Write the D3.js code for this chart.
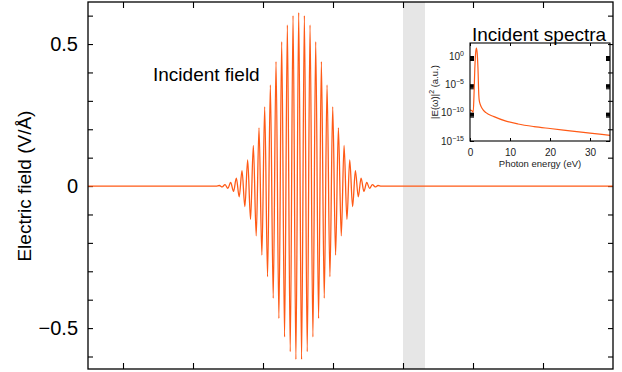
<!DOCTYPE html>
<html>
<head>
<meta charset="utf-8">
<script src="https://cdn.jsdelivr.net/npm/d3@7"></script>
<style>
  body { margin: 0; background: #fff; }
  svg { display: block; font-family: "Liberation Sans", Arial, Helvetica, sans-serif; }
</style>
</head>
<body>
<div id="chart"></div>
<script>
// incident field: extrema of the carrier (time axis in fs, field in V/Å)
const fieldTime = [-5, 13.3,
  13.76, 14.17, 14.57, 14.98, 15.38, 15.79, 16.19, 16.6, 17.0, 17.41, 17.81, 18.22, 18.62, 19.03,
  19.43, 19.84, 20.24, 20.65, 21.05, 21.46, 21.86, 22.27, 22.67, 23.08, 23.48, 23.89, 24.29, 24.7,
  25.1,
  25.51, 25.91, 26.32, 26.72, 27.13, 27.53, 27.94, 28.34, 28.75, 29.15, 29.56, 29.96, 30.37, 30.77,
  31.18, 31.58, 31.99, 32.39, 32.8, 33.2, 33.61, 34.01, 34.42, 34.82, 35.23, 35.63, 36.04, 36.44,
  36.9, 70];
const fieldValue = [0, 0,
  0.002, -0.003, 0.005, -0.008, 0.013, -0.019, 0.028, -0.038, 0.054, -0.072, 0.092, -0.117, 0.143, -0.175,
  0.205, -0.243, 0.279, -0.319, 0.356, -0.395, 0.438, -0.466, 0.508, -0.531, 0.567, -0.583, 0.600, -0.610,
  0.611,
  -0.610, 0.600, -0.583, 0.567, -0.531, 0.508, -0.466, 0.438, -0.395, 0.356, -0.319, 0.279, -0.243, 0.205,
  -0.175, 0.143, -0.117, 0.092, -0.072, 0.054, -0.038, 0.028, -0.019, 0.013, -0.008, 0.005, -0.003, 0.002,
  0, 0];
const xTicks = [0, 10, 20, 30, 40, 50, 60];
const yTicks = [-0.6, -0.5, -0.4, -0.3, -0.2, -0.1, 0, 0.1, 0.2, 0.3, 0.4, 0.5, 0.6];
const yTickLabels = [-0.5, 0, 0.5];
const grayBand = [40, 43.14];

// incident spectrum (inset)
const specEnergy = [0, 0.4, 0.8, 1.0, 1.2, 1.4, 1.6, 1.8, 2.0, 2.2, 2.3, 2.6, 3.0, 4.0, 6.0, 9.0, 12, 16, 20, 25, 30, 35];
const specPower = [3e-10, 2.5e-10, 1.2e-10, 1.3e-7, 5e-3, 3.0, 25, 3.0, 5e-3, 1.3e-7, 1.6e-8, 2.5e-9, 6e-10,
  1e-10, 2e-11, 3.2e-12, 1e-12, 3.5e-13, 1.6e-13, 6.3e-14, 2.5e-14, 1e-14];
const specXTicks = [0, 10, 20, 30];
const specYTicks = [1, 1e-5, 1e-10, 1e-15];
const specYExp = ['0', '\u22125', '\u221210', '\u221215'];

const width = 622;
const height = 372;
const lineColor = '#ff5a16';

const svg = d3.select('#chart')
  .append('svg')
  .attr('width', width)
  .attr('height', height);

// main plot scales
const x = d3.scaleLinear().domain([-5, 70]).range([88, 613]);
const y = d3.scaleLinear().domain([-0.644, 0.648]).range([369, 2]);

// gray band
svg.append('rect')
  .attr('x', x(grayBand[0]))
  .attr('y', y(0.648))
  .attr('width', x(grayBand[1]) - x(grayBand[0]))
  .attr('height', y(-0.644) - y(0.648))
  .attr('fill', '#e6e6e6');

// axes with inward ticks
const fmt = d => d === 0 ? '0' : d3.format('.1f')(d);
const yLeft = svg.append('g')
  .attr('transform', `translate(${x.range()[0]},0)`)
  .call(d3.axisLeft(y).tickValues(yTicks).tickSize(-5).tickPadding(10)
    .tickFormat(d => yTickLabels.includes(d) ? fmt(d) : ''));
svg.append('g')
  .attr('transform', `translate(${x.range()[1]},0)`)
  .call(d3.axisRight(y).tickValues(yTicks).tickSize(-5).tickFormat(''));
svg.append('g')
  .attr('transform', `translate(0,${y.range()[0]})`)
  .call(d3.axisBottom(x).tickValues(xTicks).tickSize(-6).tickFormat(''));
svg.append('g')
  .attr('transform', `translate(0,${y.range()[1]})`)
  .call(d3.axisTop(x).tickValues(xTicks).tickSize(-6).tickFormat(''));

svg.selectAll('.domain').remove();
svg.selectAll('.tick line').attr('stroke', '#000').attr('stroke-width', 1.1);
yLeft.selectAll('text')
  .attr('font-size', 20)
  .attr('font-family', '"Liberation Sans", Arial, sans-serif')
  .attr('fill', '#000');

// field line
const line = d3.line()
  .x((d, i) => x(fieldTime[i]))
  .y(d => y(d))
  .curve(d3.curveMonotoneX);

svg.append('path')
  .datum(fieldValue)
  .attr('d', line)
  .attr('fill', 'none')
  .attr('stroke', lineColor)
  .attr('stroke-width', 1.3);

// frame
svg.append('rect')
  .attr('x', x.range()[0])
  .attr('y', y.range()[1])
  .attr('width', x.range()[1] - x.range()[0])
  .attr('height', y.range()[0] - y.range()[1])
  .attr('fill', 'none')
  .attr('stroke', '#000')
  .attr('stroke-width', 1.3);

svg.append('text')
  .attr('transform', `translate(31,${y(0)}) rotate(-90)`)
  .attr('text-anchor', 'middle')
  .attr('font-size', 19)
  .text('Electric field (V/\u00c5)');

svg.append('text')
  .attr('x', 153)
  .attr('y', 81)
  .attr('font-size', 19)
  .text('Incident field');

// ---- inset ----
const sx = d3.scaleLinear().domain([0, 35]).range([470, 610]);
const sy = d3.scaleLog().domain([1e-15, 200]).range([141, 43]);
const inset = svg.append('g');

const minorY = [];
[0, -5, -10].forEach(e => {
  for (let k = 2; k <= 9; k++) minorY.push(k * Math.pow(10, e - 1));
});

inset.append('g')
  .attr('transform', `translate(0,${sy.range()[0]})`)
  .call(d3.axisBottom(sx).tickValues(specXTicks).tickSize(-3).tickPadding(8).tickFormat(d3.format('d')));
inset.append('g')
  .attr('transform', `translate(0,${sy.range()[1]})`)
  .call(d3.axisTop(sx).tickValues(specXTicks).tickSize(-3).tickFormat(''));
inset.append('g')
  .attr('transform', `translate(${sx.range()[0]},0)`)
  .call(d3.axisLeft(sy).tickValues(specYTicks.concat(minorY)).tickSize(-4).tickFormat(''));
inset.append('g')
  .attr('transform', `translate(${sx.range()[1]},0)`)
  .call(d3.axisRight(sy).tickValues(specYTicks.concat(minorY)).tickSize(-4).tickFormat(''));

inset.selectAll('.domain').remove();
inset.selectAll('.tick line').attr('stroke', '#000').attr('stroke-width', 1);
inset.selectAll('.tick text')
  .attr('font-size', 10)
  .attr('font-family', '"Liberation Sans", Arial, sans-serif')
  .attr('fill', '#222');

// log tick labels 10^n
const yl = inset.selectAll('.ylab')
  .data(specYTicks)
  .join('text')
  .attr('class', 'ylab')
  .attr('x', sx.range()[0] - 6)
  .attr('y', d => sy(d) + 3.5)
  .attr('text-anchor', 'end')
  .attr('font-size', 10)
  .attr('fill', '#222');
yl.append('tspan').text('10');
yl.append('tspan')
  .attr('dy', -4)
  .attr('font-size', 7)
  .text((d, i) => specYExp[i]);

inset.append('path')
  .datum(specPower)
  .attr('d', d3.line()
    .x((d, i) => sx(specEnergy[i]))
    .y(d => sy(d))
    .curve(d3.curveMonotoneX))
  .attr('fill', 'none')
  .attr('stroke', lineColor)
  .attr('stroke-width', 1.2);

inset.append('rect')
  .attr('x', sx.range()[0])
  .attr('y', sy.range()[1])
  .attr('width', sx.range()[1] - sx.range()[0])
  .attr('height', sy.range()[0] - sy.range()[1])
  .attr('fill', 'none')
  .attr('stroke', '#000')
  .attr('stroke-width', 1.1);

inset.append('text')
  .attr('x', 540)
  .attr('y', 167)
  .attr('text-anchor', 'middle')
  .attr('font-size', 9.5)
  .attr('fill', '#222')
  .text('Photon energy (eV)');

const ylab = inset.append('text')
  .attr('transform', 'translate(438,92) rotate(-90)')
  .attr('text-anchor', 'middle')
  .attr('font-size', 9.5)
  .attr('fill', '#222');
ylab.append('tspan').text('|E(\u03c9)|');
ylab.append('tspan').attr('dy', -4).attr('font-size', 7).text('2');
ylab.append('tspan').attr('dy', 4).text(' (a.u.)');

inset.append('text')
  .attr('x', 472)
  .attr('y', 41)
  .attr('font-size', 19)
  .text('Incident spectra');
</script>
</body>
</html>
